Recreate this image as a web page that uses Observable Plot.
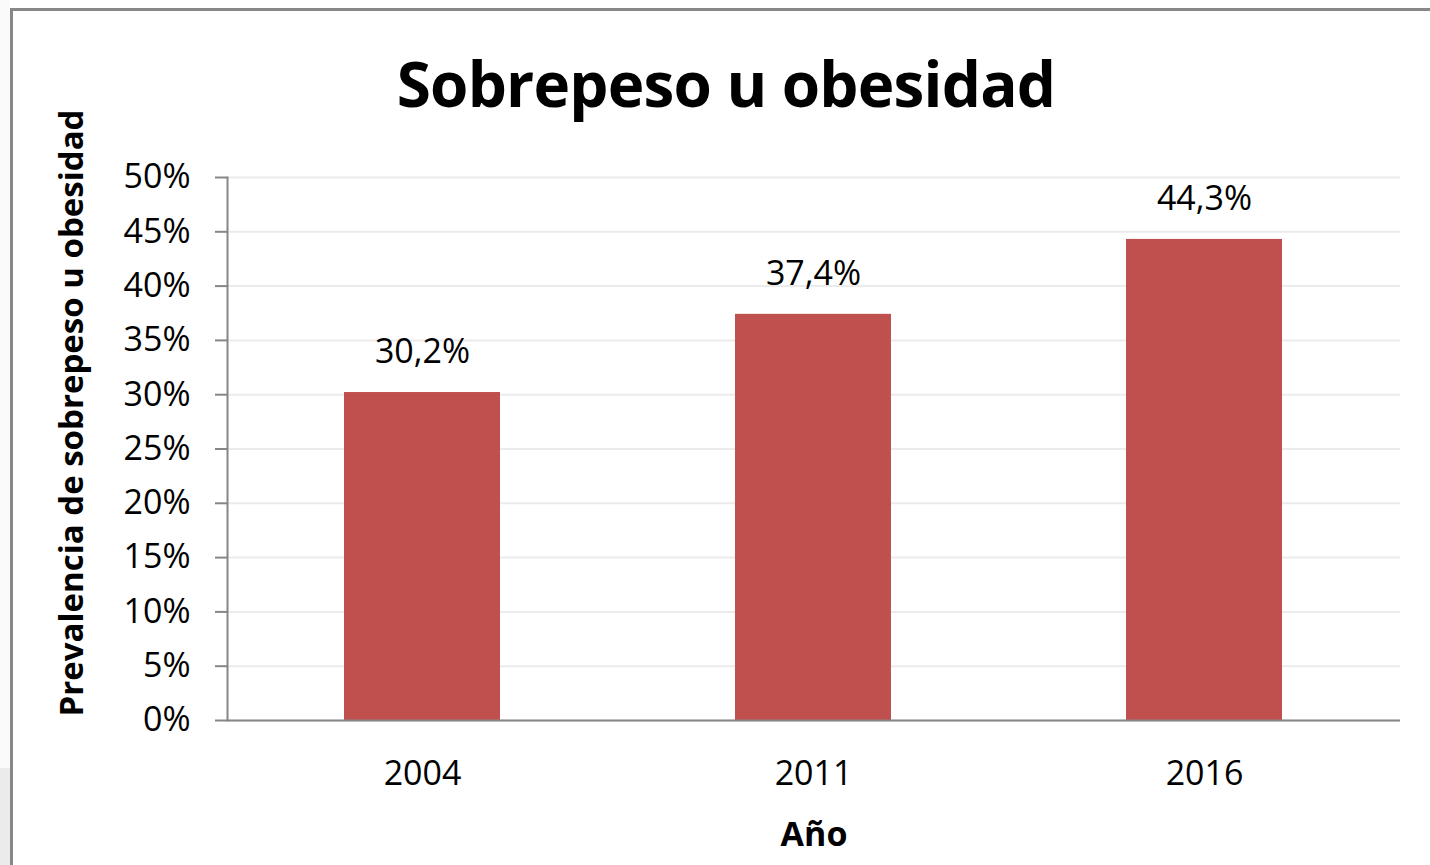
<!DOCTYPE html>
<html>
<head>
<meta charset="utf-8">
<script src="https://cdn.jsdelivr.net/npm/d3@7"></script>
<script src="https://cdn.jsdelivr.net/npm/@observablehq/plot@0.6"></script>
<style>
  html, body { margin: 0; padding: 0; background: #fff; }
  #wrap { position: relative; width: 1430px; height: 865px; overflow: hidden; font-family: "Open Sans", sans-serif; }
  #frameTop { position: absolute; left: 10px; top: 8px; width: 1420px; height: 3px; background: #878787; }
  #frameLeft { position: absolute; left: 10px; top: 8px; width: 3px; height: 857px; background: #878787; }
  #grayA { position: absolute; left: 0; top: 0; width: 10px; height: 768px; background: #fafafa; }
  #grayB { position: absolute; left: 0; top: 768px; width: 10px; height: 97px; background: #ebebeb; }
  #title { position: absolute; left: 11px; width: 1430px; top: 46px; text-align: center; font-weight: 700; font-size: 62px; letter-spacing: -0.8px; color: #000; line-height: 1.2; }
  #chart { position: absolute; left: 0; top: 0; }
</style>
</head>
<body>
<div id="wrap">
  <div id="grayA"></div>
  <div id="grayB"></div>
  <div id="chart"></div>
  <div id="frameTop"></div>
  <div id="frameLeft"></div>
  <div id="title">Sobrepeso u obesidad</div>
</div>
<script>
const years = ["2004", "2011", "2016"];
const values = [0.302, 0.374, 0.443];
const yTicks = [0, 0.05, 0.10, 0.15, 0.20, 0.25, 0.30, 0.35, 0.40, 0.45, 0.50];
const yLabel = "Prevalencia de sobrepeso u obesidad";
const xLabel = "Año";

const data = years.map((y, i) => ({year: y, value: values[i]}));
const fmt = v => (v * 100).toFixed(1).replace(".", ",") + "%";
const pct = v => Math.round(v * 100) + "%";

const font = "Open Sans, sans-serif";

const chart = Plot.plot({
  width: 1430,
  height: 865,
  marginTop: 177,
  marginBottom: 145,
  marginLeft: 227,
  marginRight: 30,
  style: { fontFamily: font, fontSize: "34px", color: "#000", background: "transparent" },
  x: { domain: years, paddingInner: 0.6, paddingOuter: 0.3, label: null },
  y: { domain: [0, 0.5], label: null },
  marks: [
    Plot.gridY(yTicks, { stroke: "#ebebeb", strokeOpacity: 1, strokeWidth: 2 }),
    Plot.barY(data, { x: "year", y: "value", fill: "#c0504d" }),
    Plot.frame({ anchor: "left", stroke: "#868686", strokeWidth: 2 }),
    Plot.ruleY([0], { stroke: "#868686", strokeWidth: 2 }),
    Plot.axisY(yTicks, { tickSize: 12, tickPadding: 25, tickFormat: pct, stroke: "#868686", strokeWidth: 2, fill: "#000", fontSize: 34, label: null }),
    Plot.axisX({ tickSize: 0, tickPadding: 40, fill: "#000", fontSize: 34, label: null }),
    Plot.text(data, { x: "year", y: "value", text: d => fmt(d.value), dy: -40, fontSize: 34, fill: "#000" }),
    Plot.text([yLabel], { frameAnchor: "left", textAnchor: "middle", rotate: -90, dx: -155, dy: -36, fontSize: 33, fontWeight: 700, fill: "#000", text: d => d }),
    Plot.text([xLabel], { frameAnchor: "bottom", dy: 125, fontSize: 34, fontWeight: 700, fill: "#000", text: d => d })
  ]
});
document.getElementById("chart").appendChild(chart);
</script>
</body>
</html>
